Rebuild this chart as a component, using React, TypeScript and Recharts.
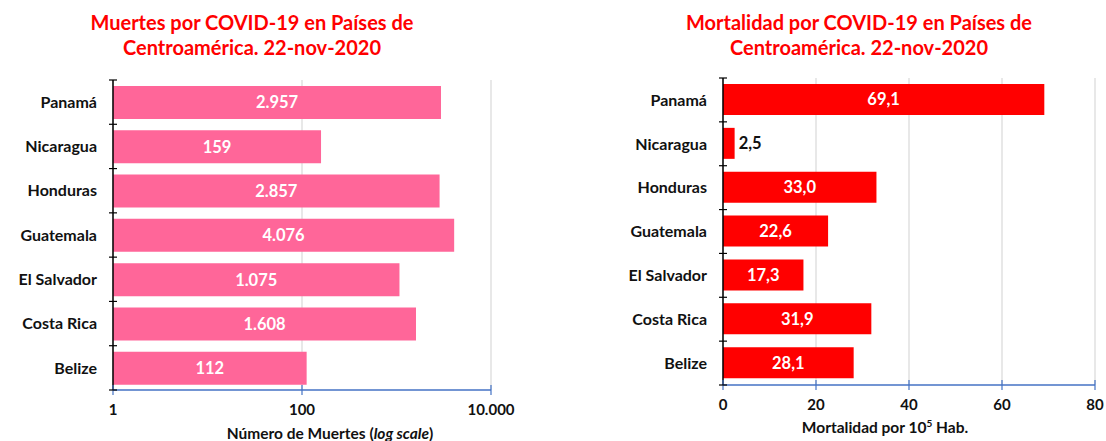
import React from 'react';
import { BarChart, Bar, XAxis, YAxis, CartesianGrid, LabelList } from 'recharts';

// ── Data ────────────────────────────────────────────────────────────────
const countries = ['Panamá', 'Nicaragua', 'Honduras', 'Guatemala', 'El Salvador', 'Costa Rica', 'Belize'];
const deaths = [2957, 159, 2857, 4076, 1075, 1608, 112];
const mortality = [69.1, 2.5, 33.0, 22.6, 17.3, 31.9, 28.1];
const deathTicks = [1, 100, 10000];
const mortalityTicks = [0, 20, 40, 60, 80];

const deathRows = countries.map((c, i) => ({ country: c, value: deaths[i] }));
const mortalityRows = countries.map((c, i) => ({ country: c, value: mortality[i] }));

const FONT = 'Lato, Carlito, Calibri, sans-serif';
const AXIS_BLUE = '#4472C4';
const GRID = '#D9D9D9';
const CAT_GAP = 16;
const TICK_GAP = 12;

// "2957" → "2.957", 69.1 → "69,1"
const fmtThousands = (v: number) => String(Math.round(v)).replace(/\B(?=(\d{3})+(?!\d))/g, '.');
const fmtDecimal = (v: number) => v.toFixed(1).replace('.', ',');

// ── Category tick: label + cross tick at band boundaries (Excel style) ──
// eslint-disable-next-line @typescript-eslint/no-explicit-any
const CatTick = (props: any) => {
  const { x, y, payload, index } = props;
  const ax = x + CAT_GAP;
  const half = payload?.offset ?? 22;
  return (
    <g>
      <text x={x} y={y} dy="0.36em" textAnchor="end" fontFamily={FONT} fontWeight={700} fontSize={16} fill="#111">
        {payload.value}
      </text>
      <line x1={ax - 4} x2={ax + 4} y1={y - half} y2={y - half} stroke="#000" strokeWidth={1.2} />
      {index === countries.length - 1 && (
        <line x1={ax - 4} x2={ax + 4} y1={y + half} y2={y + half} stroke="#000" strokeWidth={1.2} />
      )}
    </g>
  );
};

// ── Value tick on the x axis: crossing tick + bold label ────────────────
const makeValueTick = (fmt: (v: number) => string) => {
  // eslint-disable-next-line @typescript-eslint/no-explicit-any
  return (props: any) => {
    const { x, y, payload } = props;
    const ay = y - TICK_GAP;
    return (
      <g>
        <line x1={x} x2={x} y1={ay - 5} y2={ay + 5} stroke={AXIS_BLUE} strokeWidth={1.2} />
        <text x={x} y={ay + 20} dy="0.36em" textAnchor="middle" fontFamily={FONT} fontWeight={700} fontSize={15} fill="#111">
          {fmt(payload.value)}
        </text>
      </g>
    );
  };
};

// ── Bar value: white inside, black outside when the bar is too short ───
const makeBarValue = (fmt: (v: number) => string) => {
  // eslint-disable-next-line @typescript-eslint/no-explicit-any
  return (props: any) => {
    const { x, y, width, height, value } = props;
    const inside = width > 40;
    return (
      <text
        x={inside ? x + width / 2 : x + width + 4}
        y={y + height / 2}
        dy="0.36em"
        textAnchor={inside ? 'middle' : 'start'}
        fontFamily={FONT}
        fontWeight={700}
        fontSize={16.5}
        fill={inside ? '#fff' : '#111'}
      >
        {fmt(value)}
      </text>
    );
  };
};

const titleStyle = (cx: number): React.CSSProperties => ({
  position: 'absolute', left: cx - 250, width: 500, top: 10, textAlign: 'center',
  fontFamily: FONT, fontWeight: 700, fontSize: 20, lineHeight: '25px', color: '#FF0000',
});

const axisTitleStyle = (cx: number, cy: number): React.CSSProperties => ({
  position: 'absolute', left: cx - 200, width: 400, top: cy - 10, textAlign: 'center',
  fontFamily: FONT, fontWeight: 700, fontSize: 15.5, lineHeight: '20px', color: '#111',
});

export default function App() {
  return (
    <div style={{ position: 'absolute', left: 0, top: 0, width: 1106, height: 441, background: '#fff', overflow: 'hidden' }}>
      {/* Left: deaths, log scale */}
      <div style={{ position: 'absolute', left: 0, top: 0 }}>
        <BarChart width={560} height={441} data={deathRows} layout="vertical"
          margin={{ top: 80, right: 69, left: 0, bottom: 11 }}>
          <CartesianGrid horizontal={false} stroke={GRID} strokeWidth={1.2} />
          <XAxis type="number" dataKey="value" scale="log" domain={[1, 10000]} ticks={deathTicks}
            allowDataOverflow height={40} axisLine={{ stroke: AXIS_BLUE, strokeWidth: 1.5 }} tickLine={false}
            tickSize={0} tickMargin={TICK_GAP} tick={makeValueTick(fmtThousands)} interval={0} />
          <YAxis type="category" dataKey="country" width={113} axisLine={{ stroke: '#000', strokeWidth: 1.5 }}
            tickLine={false} tickSize={0} tickMargin={CAT_GAP} tick={<CatTick />} interval={0} />
          <Bar dataKey="value" fill="#FF6699" barSize={33} isAnimationActive={false}>
            <LabelList dataKey="value" content={makeBarValue(fmtThousands)} />
          </Bar>
        </BarChart>
      </div>

      {/* Right: mortality per 100k */}
      <div style={{ position: 'absolute', left: 560, top: 0 }}>
        <BarChart width={546} height={441} data={mortalityRows} layout="vertical"
          margin={{ top: 78, right: 11, left: 0, bottom: 16 }}>
          <CartesianGrid horizontal={false} stroke={GRID} strokeWidth={1.2} />
          <XAxis type="number" dataKey="value" domain={[0, 80]} ticks={mortalityTicks}
            height={40} axisLine={{ stroke: AXIS_BLUE, strokeWidth: 1.5 }} tickLine={false}
            tickSize={0} tickMargin={TICK_GAP} tick={makeValueTick(v => String(v))} interval={0} />
          <YAxis type="category" dataKey="country" width={163} axisLine={{ stroke: '#000', strokeWidth: 1.5 }}
            tickLine={false} tickSize={0} tickMargin={CAT_GAP} tick={<CatTick />} interval={0} />
          <Bar dataKey="value" fill="#FF0000" barSize={31} isAnimationActive={false}>
            <LabelList dataKey="value" content={makeBarValue(fmtDecimal)} />
          </Bar>
        </BarChart>
      </div>

      <div style={titleStyle(252)}>Muertes por COVID-19 en Países de<br />Centroamérica. 22-nov-2020</div>
      <div style={titleStyle(859)}>Mortalidad por COVID-19 en Países de<br />Centroamérica. 22-nov-2020</div>

      <div style={axisTitleStyle(330, 433)}>Número de Muertes (<i>log scale</i>)</div>
      <div style={axisTitleStyle(885, 427)}>
        Mortalidad por 10<span style={{ fontSize: 10, verticalAlign: 'super', lineHeight: 0 }}>5</span> Hab.
      </div>
    </div>
  );
}
